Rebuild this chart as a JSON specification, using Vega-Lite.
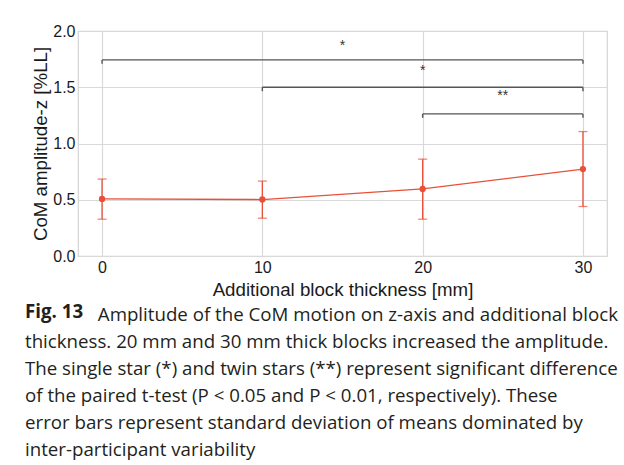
{
  "$schema": "https://vega.github.io/schema/vega-lite/v6.json",
  "width": 529,
  "height": 225,
  "autosize": {"type": "none"},
  "padding": {"left": 78, "top": 31, "right": 17, "bottom": 209},
  "background": "white",
  "config": {
    "view": {"stroke": "#d4d4d4", "strokeWidth": 1.2}
  },
  "title": {
    "text": "Fig. 13",
    "subtitle": [
      "\u200b\u00a0\u00a0\u00a0\u00a0\u00a0\u00a0\u00a0\u00a0\u00a0\u00a0\u00a0\u00a0\u00a0\u00a0\u00a0Amplitude of the CoM motion on z-axis and additional block",
      "thickness. 20 mm and 30 mm thick blocks increased the amplitude.",
      "The single star (*) and twin stars (**) represent significant difference",
      "of the paired t-test (P < 0.05 and P < 0.01, respectively). These",
      "error bars represent standard deviation of means dominated by",
      "inter-participant variability"
    ],
    "orient": "bottom",
    "anchor": "start",
    "frame": "group",
    "dx": -53,
    "offset": 4,
    "font": "Open Sans",
    "fontSize": 18.7,
    "fontWeight": "bold",
    "color": "#231f20",
    "subtitleFont": "Open Sans",
    "subtitleFontSize": 18.7,
    "subtitleFontWeight": "normal",
    "subtitleColor": "#231f20",
    "subtitleLineHeight": 27,
    "subtitlePadding": -15
  },
  "datasets": {
    "means": [
      {"x": 0, "y": 0.507, "lo": 0.327, "hi": 0.684},
      {"x": 10, "y": 0.502, "lo": 0.336, "hi": 0.666},
      {"x": 20, "y": 0.596, "lo": 0.327, "hi": 0.861},
      {"x": 30, "y": 0.773, "lo": 0.44, "hi": 1.106}
    ],
    "brackets": [
      {"x1": 0, "x2": 30, "y": 1.743, "yt": 1.708, "mid": 15, "ys": 1.87, "star": "*"},
      {"x1": 10, "x2": 30, "y": 1.50, "yt": 1.465, "mid": 20, "ys": 1.646, "star": "*"},
      {"x1": 20, "x2": 30, "y": 1.263, "yt": 1.228, "mid": 25, "ys": 1.418, "star": "**"}
    ]
  },
  "layer": [
    {
      "data": {"name": "means"},
      "mark": {"type": "line", "color": "#e8503a", "strokeWidth": 1.3},
      "encoding": {
        "x": {
          "field": "x",
          "type": "quantitative",
          "scale": {"domain": [-1.5, 31.5], "nice": false, "zero": false},
          "axis": {
            "values": [0, 10, 20, 30],
            "title": "Additional block thickness [mm]",
            "domain": false, "ticks": false,
            "gridColor": "#d9d9d9", "gridWidth": 1.2,
            "labelFont": "Liberation Sans", "labelFontSize": 16, "labelColor": "#1a1a1a",
            "titleFont": "Liberation Sans", "titleFontSize": 18.7, "titleFontWeight": "normal", "titleColor": "#1a1a1a",
            "labelPadding": 3, "titlePadding": 5
          }
        },
        "y": {
          "field": "y",
          "type": "quantitative",
          "scale": {"domain": [0, 2], "nice": false},
          "axis": {
            "values": [0, 0.5, 1, 1.5, 2],
            "format": ".1f",
            "title": "CoM amplitude-z [%LL]",
            "domain": false, "ticks": false,
            "gridColor": "#d9d9d9", "gridWidth": 1.2,
            "labelFont": "Liberation Sans", "labelFontSize": 16, "labelColor": "#1a1a1a",
            "titleFont": "Liberation Sans", "titleFontSize": 18.7, "titleFontWeight": "normal", "titleColor": "#1a1a1a",
            "labelPadding": 3, "titlePadding": 2
          }
        }
      }
    },
    {
      "data": {"name": "means"},
      "mark": {"type": "rule", "color": "#e8503a", "strokeWidth": 1.3},
      "encoding": {
        "x": {"field": "x", "type": "quantitative"},
        "y": {"field": "lo", "type": "quantitative"},
        "y2": {"field": "hi"}
      }
    },
    {
      "data": {"name": "means"},
      "mark": {"type": "tick", "orient": "horizontal", "color": "#e8503a", "size": 9, "thickness": 1.3},
      "encoding": {
        "x": {"field": "x", "type": "quantitative"},
        "y": {"field": "lo", "type": "quantitative"}
      }
    },
    {
      "data": {"name": "means"},
      "mark": {"type": "tick", "orient": "horizontal", "color": "#e8503a", "size": 9, "thickness": 1.3},
      "encoding": {
        "x": {"field": "x", "type": "quantitative"},
        "y": {"field": "hi", "type": "quantitative"}
      }
    },
    {
      "data": {"name": "means"},
      "mark": {"type": "point", "filled": true, "opacity": 1, "color": "#e8503a", "size": 40},
      "encoding": {
        "x": {"field": "x", "type": "quantitative"},
        "y": {"field": "y", "type": "quantitative"}
      }
    },
    {
      "data": {"name": "brackets"},
      "mark": {"type": "rule", "color": "#555555", "strokeWidth": 1.4},
      "encoding": {
        "x": {"field": "x1", "type": "quantitative"},
        "x2": {"field": "x2"},
        "y": {"field": "y", "type": "quantitative"}
      }
    },
    {
      "data": {"name": "brackets"},
      "mark": {"type": "rule", "color": "#555555", "strokeWidth": 1.4},
      "encoding": {
        "x": {"field": "x1", "type": "quantitative"},
        "y": {"field": "y", "type": "quantitative"},
        "y2": {"field": "yt"}
      }
    },
    {
      "data": {"name": "brackets"},
      "mark": {"type": "rule", "color": "#555555", "strokeWidth": 1.4},
      "encoding": {
        "x": {"field": "x2", "type": "quantitative"},
        "y": {"field": "y", "type": "quantitative"},
        "y2": {"field": "yt"}
      }
    },
    {
      "data": {"name": "brackets"},
      "mark": {"type": "text", "color": "#333333", "fontSize": 14, "baseline": "middle", "font": "Liberation Sans"},
      "encoding": {
        "x": {"field": "mid", "type": "quantitative"},
        "y": {"field": "ys", "type": "quantitative"},
        "text": {"field": "star"}
      }
    }
  ]
}
